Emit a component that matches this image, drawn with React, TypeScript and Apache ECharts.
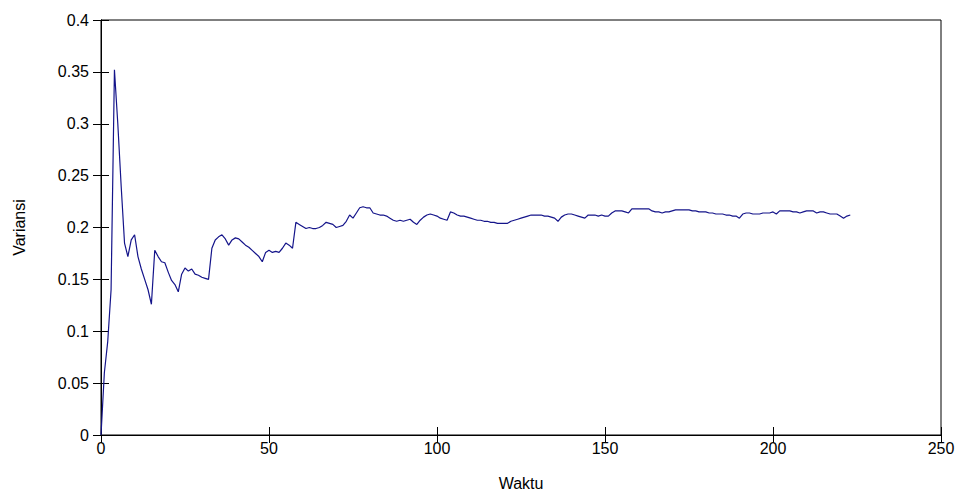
import React, { useEffect, useRef } from "react";
import * as echarts from "echarts";

const xTicks = [0, 50, 100, 150, 200, 250];
const yTicks = [0, 0.05, 0.1, 0.15, 0.2, 0.25, 0.3, 0.35, 0.4];

const variansi = [
  0.0, 0.06, 0.09, 0.14, 0.352, 0.3, 0.24, 0.185, 0.172, 0.188,
  0.193, 0.172, 0.16, 0.15, 0.14, 0.126, 0.178, 0.172, 0.167, 0.166,
  0.157, 0.149, 0.145, 0.138, 0.155, 0.161, 0.158, 0.16, 0.155, 0.154,
  0.152, 0.151, 0.15, 0.18, 0.188, 0.191, 0.193, 0.189, 0.183, 0.188,
  0.19, 0.189, 0.186, 0.183, 0.181, 0.178, 0.175, 0.172, 0.167, 0.176,
  0.178, 0.176, 0.177, 0.176, 0.18, 0.185, 0.183, 0.18, 0.205, 0.203,
  0.201, 0.199, 0.2, 0.199, 0.199, 0.2, 0.202, 0.205, 0.204, 0.203,
  0.2, 0.201, 0.202, 0.206, 0.212, 0.209, 0.214, 0.219, 0.22, 0.219,
  0.219, 0.214, 0.213, 0.212, 0.212, 0.211, 0.209, 0.207, 0.206, 0.207,
  0.206, 0.207, 0.208, 0.205, 0.203, 0.207, 0.21, 0.212, 0.213, 0.212,
  0.211, 0.209, 0.208, 0.207, 0.215, 0.214, 0.212, 0.211, 0.211, 0.21,
  0.209, 0.208, 0.207, 0.207, 0.206, 0.206, 0.205, 0.205, 0.204, 0.204,
  0.204, 0.204, 0.206, 0.207, 0.208, 0.209, 0.21, 0.211, 0.212, 0.212,
  0.212, 0.212, 0.211, 0.211, 0.21, 0.209, 0.206, 0.21, 0.212, 0.213,
  0.213, 0.212, 0.211, 0.21, 0.209, 0.212, 0.212, 0.212, 0.211, 0.212,
  0.211, 0.211, 0.214, 0.216, 0.216, 0.216, 0.215, 0.214, 0.218, 0.218,
  0.218, 0.218, 0.218, 0.218, 0.216, 0.215, 0.215, 0.214, 0.215, 0.215,
  0.216, 0.217, 0.217, 0.217, 0.217, 0.217, 0.216, 0.216, 0.215, 0.215,
  0.215, 0.214, 0.214, 0.213, 0.213, 0.213, 0.212, 0.212, 0.211, 0.211,
  0.209, 0.213, 0.214, 0.214, 0.213, 0.213, 0.213, 0.214, 0.214, 0.214,
  0.215, 0.213, 0.216, 0.216, 0.216, 0.216, 0.215, 0.215, 0.214, 0.215,
  0.216, 0.216, 0.216, 0.214, 0.215, 0.215, 0.214, 0.213, 0.213, 0.213,
  0.211, 0.209, 0.211, 0.212,
];

const FONT = "'Liberation Sans', Arial, sans-serif";

export default function App() {
  const ref = useRef<HTMLDivElement>(null);
  useEffect(() => {
    document.body.style.margin = "0";
    const chart = echarts.init(ref.current!, null, { renderer: "svg" });
    const data = variansi.map((v, i) => [i, v]);
    const labelStyle = { color: "#000", fontFamily: FONT, fontSize: 16 };
    chart.setOption({
      animation: false,
      backgroundColor: "#fff",
      grid: {
        left: 101,
        right: 19,
        top: 20,
        bottom: 62,
        show: true,
        borderColor: "#000",
        borderWidth: 1,
        backgroundColor: "#fff",
      },
      xAxis: [
        {
          type: "value",
          min: xTicks[0],
          max: xTicks[xTicks.length - 1],
          interval: 50,
          name: "Waktu",
          nameLocation: "middle",
          nameGap: 40,
          nameTextStyle: { ...labelStyle },
          axisLine: { show: true, lineStyle: { color: "#000", width: 1 } },
          axisTick: { show: true, inside: true, length: 8, lineStyle: { color: "#000" } },
          axisLabel: { ...labelStyle, margin: 5 },
          splitLine: { show: false },
        },
        {
          type: "value",
          position: "top",
          min: xTicks[0],
          max: xTicks[xTicks.length - 1],
          interval: 50,
          axisLine: { show: true, lineStyle: { color: "#000", width: 1 } },
          axisTick: { show: true, inside: true, length: 8, lineStyle: { color: "#000" } },
          axisLabel: { show: false },
          splitLine: { show: false },
        },
      ],
      yAxis: [
        {
          type: "value",
          min: yTicks[0],
          max: yTicks[yTicks.length - 1],
          interval: 0.05,
          name: "Variansi",
          nameLocation: "middle",
          nameGap: 74,
          nameTextStyle: { ...labelStyle },
          axisLine: { show: true, lineStyle: { color: "#000", width: 1 } },
          axisTick: { show: true, inside: true, length: 8, lineStyle: { color: "#000" } },
          axisLabel: { ...labelStyle, margin: 12 },
          splitLine: { show: false },
        },
        {
          type: "value",
          position: "right",
          min: yTicks[0],
          max: yTicks[yTicks.length - 1],
          interval: 0.05,
          axisLine: { show: true, lineStyle: { color: "#000", width: 1 } },
          axisTick: { show: true, inside: true, length: 8, lineStyle: { color: "#000" } },
          axisLabel: { show: false },
          splitLine: { show: false },
        },
      ],
      series: [
        {
          type: "line",
          xAxisIndex: 0,
          yAxisIndex: 0,
          data,
          showSymbol: false,
          symbol: "none",
          lineStyle: { color: "#14148a", width: 1.2 },
        },
      ],
    });
    return () => chart.dispose();
  }, []);
  return <div ref={ref} style={{ width: 960, height: 497 }} />;
}
